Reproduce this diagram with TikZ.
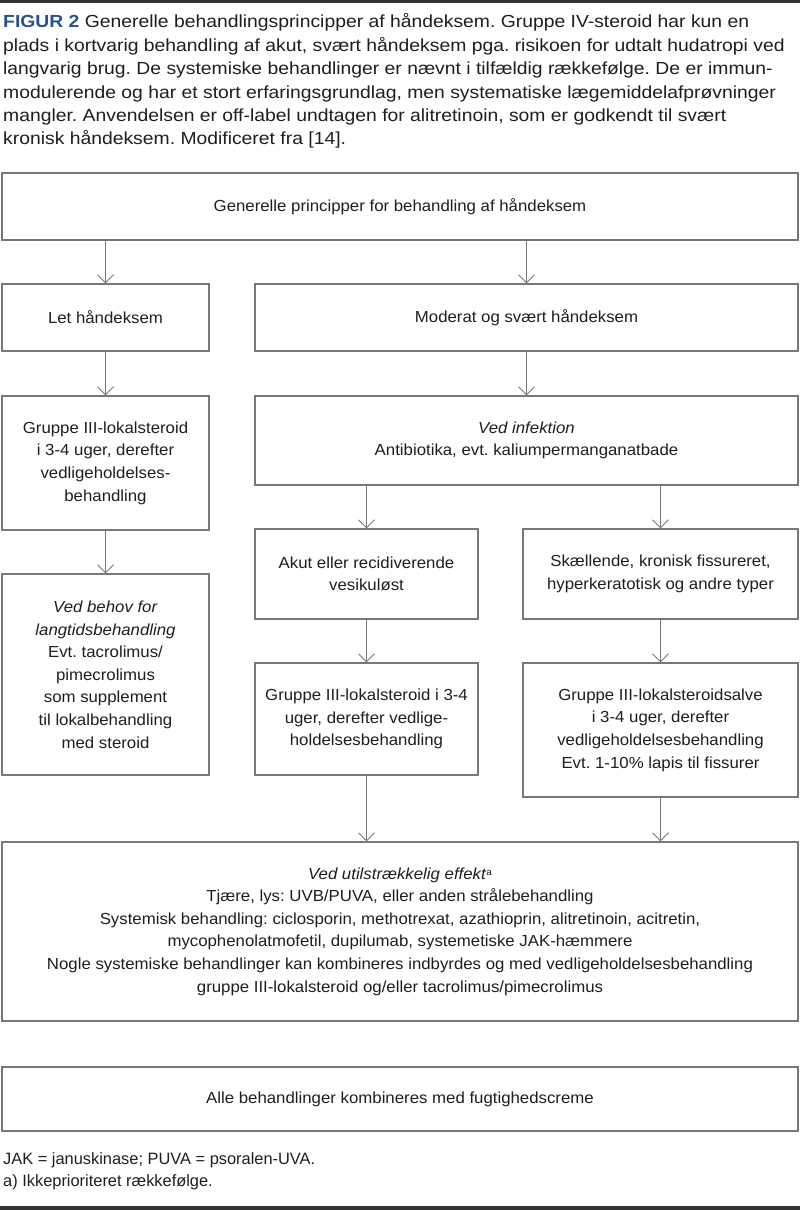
\documentclass[tikz,border=0pt]{standalone}
\usepackage{fontspec}
\setmainfont{Liberation Sans}[FakeStretch=1.05]
\newfontfamily\capfont{Liberation Sans}[FakeStretch=1.105]
\newfontfamily\footfont{Liberation Sans}
\usetikzlibrary{arrows.meta}
\definecolor{lc}{HTML}{787878}
\definecolor{tx}{HTML}{1E1E1E}
\definecolor{figc}{HTML}{2B5286}
\definecolor{rulec}{HTML}{333333}
\frenchspacing
\begin{document}
\begin{tikzpicture}[x=1pt,y=-1pt,
  box/.style={draw=lc, line width=1.1pt, rectangle, align=center, inner sep=0pt,
    font=\fontsize{16}{22.6}\selectfont, text=tx},
  arr/.style={draw=lc, line width=1pt, -{Straight Barb[length=8pt,width=16pt]}},
  plain/.style={anchor=north west, inner sep=0pt, align=left, text=tx}]
\useasboundingbox (0,0) rectangle (800,1210);
\fill[rulec] (0,0) rectangle (800,3);
\fill[rulec] (0,1206) rectangle (800,1210);

\node[plain, font=\capfont\fontsize{17.5}{23.4}\selectfont] (cap) at (3,13.5)
{\textcolor{figc}{\textbf{FIGUR 2}} Generelle behandlingsprincipper af håndeksem. Gruppe IV-steroid har kun en\\
plads i kortvarig behandling af akut, svært håndeksem pga. risikoen for udtalt hudatropi ved\\
langvarig brug. De systemiske behandlinger er nævnt i tilfældig rækkefølge. De er immun-\\
modulerende og har et stort erfaringsgrundlag, men systematiske lægemiddelafprøvninger\\
mangler. Anvendelsen er off-label undtagen for alitretinoin, som er godkendt til svært\\
kronisk håndeksem. Modificeret fra [14].};

\node[box, minimum width=796pt, minimum height=67pt] (top) at (400,206.5)
  {Generelle principper for behandling af håndeksem};
\node[box, minimum width=207pt, minimum height=67pt] (let) at (105.5,317.5)
  {Let håndeksem};
\node[box, minimum width=543pt, minimum height=67pt] (mod) at (526.5,317.5)
  {Moderat og svært håndeksem};
\node[box, minimum width=207pt, minimum height=134pt] (g3l) at (105.5,463)
  {Gruppe III-lokalsteroid\\ i 3-4 uger, derefter\\ vedligeholdelses-\\ behandling};
\node[box, minimum width=543pt, minimum height=89pt] (inf) at (526.5,440.5)
  {\textit{Ved infektion}\\ Antibiotika, evt. kaliumpermanganatbade};
\node[box, minimum width=207pt, minimum height=201pt] (beh) at (105.5,674.5)
  {\textit{Ved behov for}\\ \textit{langtidsbehandling}\\ Evt. tacrolimus/\\ pimecrolimus\\ som supplement\\ til lokalbehandling\\ med steroid};
\node[box, minimum width=223pt, minimum height=90pt] (akut) at (366.5,574)
  {Akut eller recidiverende\\ vesikuløst};
\node[box, minimum width=275pt, minimum height=90pt] (skael) at (660.5,574)
  {Skællende, kronisk fissureret,\\ hyperkeratotisk og andre typer};
\node[box, minimum width=223pt, minimum height=112pt] (g3m) at (366.5,719)
  {Gruppe III-lokalsteroid i 3-4\\ uger, derefter vedlige-\\ holdelsesbehandling};
\node[box, minimum width=275pt, minimum height=134pt] (g3r) at (660.5,730)
  {Gruppe III-lokalsteroidsalve\\ i 3-4 uger, derefter\\ vedligeholdelsesbehandling\\ Evt. 1-10\% lapis til fissurer};
\node[box, minimum width=796pt, minimum height=179pt] (big) at (400,931.5)
  {\textit{Ved utilstrækkelig effekt}\raisebox{0.45ex}{\fontsize{9.5}{10}\selectfont a}\\
   Tjære, lys: UVB/PUVA, eller anden strålebehandling\\
   Systemisk behandling: ciclosporin, methotrexat, azathioprin, alitretinoin, acitretin,\\
   mycophenolatmofetil, dupilumab, systemetiske JAK-hæmmere\\
   Nogle systemiske behandlinger kan kombineres indbyrdes og med vedligeholdelsesbehandling\\
   gruppe III-lokalsteroid og/eller tacrolimus/pimecrolimus};
\node[box, minimum width=796pt, minimum height=64pt] (fug) at (400,1099)
  {Alle behandlinger kombineres med fugtighedscreme};

\node[plain, font=\footfont\fontsize{16.4}{22.4}\selectfont] (foot) at (3,1152.5)
{JAK = januskinase; PUVA = psoralen-UVA.\\ a) Ikkeprioriteret rækkefølge.};

\draw[arr] (top.south -| let.north) -- (let.north);
\draw[arr] (top.south -| mod.north) -- (mod.north);
\draw[arr] (let.south) -- (g3l.north);
\draw[arr] (mod.south) -- (inf.north);
\draw[arr] (g3l.south) -- (beh.north);
\draw[arr] (inf.south -| akut.north) -- (akut.north);
\draw[arr] (inf.south -| skael.north) -- (skael.north);
\draw[arr] (akut.south) -- (g3m.north);
\draw[arr] (skael.south) -- (g3r.north);
\draw[arr] (g3m.south) -- (g3m.south |- big.north);
\draw[arr] (g3r.south) -- (g3r.south |- big.north);
\end{tikzpicture}
\end{document}
